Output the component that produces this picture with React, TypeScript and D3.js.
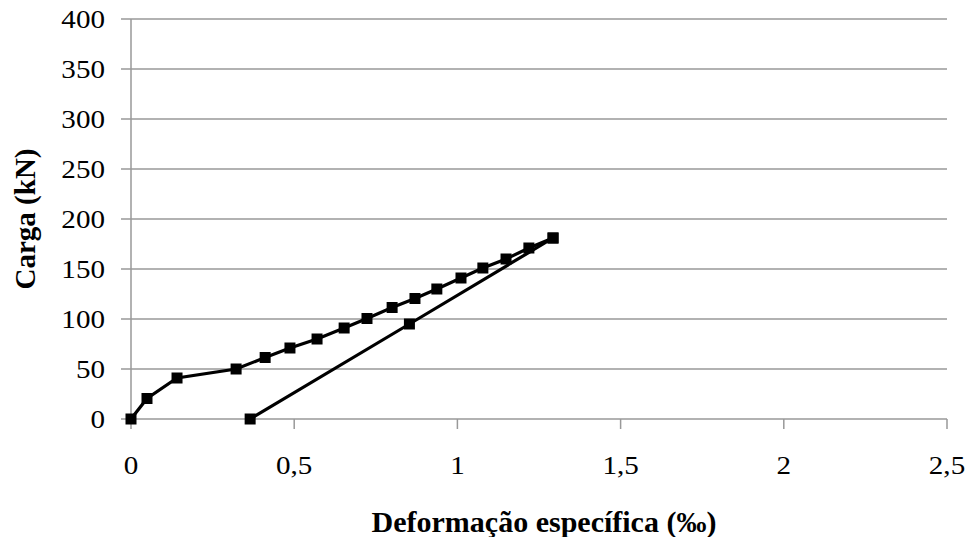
import React from "react";
import * as d3 from "d3";

const loadStrain = [0, 0.049, 0.141, 0.322, 0.411, 0.487, 0.57, 0.653, 0.723, 0.8, 0.87, 0.937, 1.011, 1.078, 1.149, 1.219, 1.293];
const loadForce = [0, 20.5, 41, 50, 61.5, 71, 80, 91, 100.5, 111.5, 120.5, 130, 141, 151, 160, 171, 181];

const unloadStrain = [1.293, 0.853, 0.365];
const unloadForce = [181, 95, 0];

const xTicks = [0, 0.5, 1, 1.5, 2, 2.5];
const yTicks = [0, 50, 100, 150, 200, 250, 300, 350, 400];

const xTitle = "Deformação específica (‰)";
const yTitle = "Carga (kN)";

const W = 970;
const H = 537;
const left = 131;
const right = 947;
const top = 19;
const bottom = 419;

const fmt = (v: number) => String(v).replace(".", ",");

export default function App() {
  const x = d3.scaleLinear().domain([0, 2.5]).range([left, right]);
  const y = d3.scaleLinear().domain([0, 400]).range([bottom, top]);
  const line = d3
    .line<[number, number]>()
    .x((d) => x(d[0]))
    .y((d) => y(d[1]));
  const load: [number, number][] = loadStrain.map((s, i) => [s, loadForce[i]]);
  const unload: [number, number][] = unloadStrain.map((s, i) => [s, unloadForce[i]]);
  const ms = 11;
  const grid = "#999";
  const fontStyle = { fontFamily: '"Liberation Serif", "Times New Roman", Times, serif' };
  const sx = 1.12;

  return (
    <svg
      width={W}
      height={H}
      style={{ position: "absolute", left: 0, top: 0, background: "#fff" }}
    >
      <rect x={0} y={0} width={W} height={H} fill="#fff" />
      {yTicks.map((t) => (
        <g key={"y" + t}>
          <line x1={left - 10} x2={right} y1={y(t)} y2={y(t)} stroke={grid} strokeWidth={1.5} />
          <text
            transform={`translate(105, ${y(t) + 9}) scale(${sx}, 1)`}
            textAnchor="end"
            fontSize={26}
            fill="#000"
            style={fontStyle}
          >
            {t}
          </text>
        </g>
      ))}
      <line x1={left} x2={left} y1={top} y2={bottom} stroke={grid} strokeWidth={1.5} />
      {xTicks.map((t) => (
        <g key={"x" + t}>
          <line x1={x(t)} x2={x(t)} y1={bottom} y2={bottom + 10} stroke={grid} strokeWidth={1.5} />
          <text
            transform={`translate(${x(t)}, 474) scale(${sx}, 1)`}
            textAnchor="middle"
            fontSize={26}
            fill="#000"
            style={fontStyle}
          >
            {fmt(t)}
          </text>
        </g>
      ))}
      <path d={line(unload) || ""} fill="none" stroke="#000" strokeWidth={3.2} />
      <path d={line(load) || ""} fill="none" stroke="#000" strokeWidth={3.2} />
      {load.map((d, i) => (
        <rect key={"l" + i} x={x(d[0]) - ms / 2} y={y(d[1]) - ms / 2} width={ms} height={ms} fill="#000" />
      ))}
      {unload.map((d, i) => (
        <rect key={"u" + i} x={x(d[0]) - ms / 2} y={y(d[1]) - ms / 2} width={ms} height={ms} fill="#000" />
      ))}
      <text x={(left + right) / 2 + 5} y={532} textAnchor="middle" fontSize={30} fontWeight="bold" fill="#000" style={fontStyle}>
        {xTitle}
      </text>
      <text
        transform={`translate(35, ${(top + bottom) / 2}) rotate(-90)`}
        textAnchor="middle"
        fontSize={29}
        fontWeight="bold"
        fill="#000"
        style={fontStyle}
      >
        {yTitle}
      </text>
    </svg>
  );
}
